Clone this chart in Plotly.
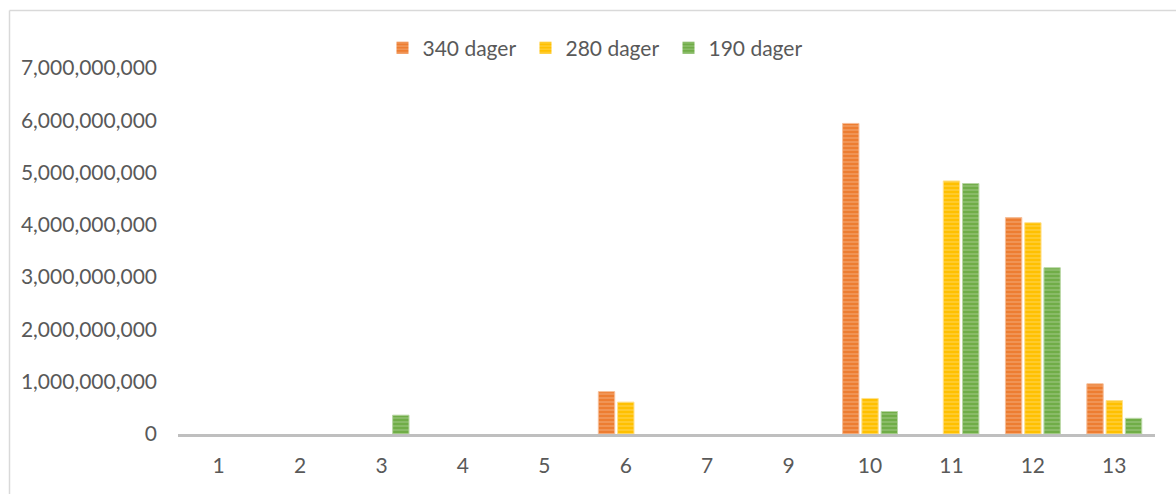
import plotly.graph_objects as go

# Category labels along the x axis (note: no 8)
categories = ["1", "2", "3", "4", "5", "6", "7", "9", "10", "11", "12", "13"]

# Values per series
dager_340 = [0, 0, 0, 0, 0, 0.81e9, 0, 0, 5.94e9, 0, 4.14e9, 0.96e9]
dager_280 = [0, 0, 0, 0, 0, 0.61e9, 0, 0, 0.68e9, 4.84e9, 4.04e9, 0.64e9]
dager_190 = [0, 0, 0.36e9, 0, 0, 0, 0, 0, 0.43e9, 4.79e9, 3.18e9, 0.30e9]

series_names = ["340 dager", "280 dager", "190 dager"]
series_values = [dager_340, dager_280, dager_190]
colors = ["#ED7D31", "#FFC000", "#70AD47"]
edge_colors = ["#F6BE98", "#FFE08A", "#B8D6A3"]

# y-axis tick values and their labels
y_ticks = [0, 1e9, 2e9, 3e9, 4e9, 5e9, 6e9, 7e9]
y_tick_labels = ["0", "1,000,000,000", "2,000,000,000", "3,000,000,000",
                 "4,000,000,000", "5,000,000,000", "6,000,000,000", "7,000,000,000"]

FONT = "Lato"
TEXT = "#595959"

W, H = 1176, 494
L, R, T, B = 178, 21, 68, 60
plot_w = W - L - R
plot_h = H - T - B

fig = go.Figure()
for name, vals, col, edge in zip(series_names, series_values, colors, edge_colors):
    fig.add_trace(go.Bar(
        x=categories, y=vals, name=name,
        marker=dict(
            color=col,
            # no outline on empty bars so nothing shows at zero
            line=dict(color=edge, width=[1 if v else 0 for v in vals]),
            pattern=dict(shape="-", fillmode="overlay",
                         fgcolor="rgba(255,255,255,0.5)", size=4, solidity=0.35),
        ),
    ))


def px_x(p):
    return (p - L) / plot_w


def px_y(p):
    return (H - B - p) / plot_h


# Thin frame around the chart area
fig.add_shape(type="line", xref="paper", yref="paper",
              x0=px_x(9.5), x1=px_x(1180), y0=px_y(10.5), y1=px_y(10.5),
              line=dict(color="#D9D9D9", width=1.5))
fig.add_shape(type="line", xref="paper", yref="paper",
              x0=px_x(9.5), x1=px_x(9.5), y0=px_y(10.5), y1=px_y(500),
              line=dict(color="#D9D9D9", width=1.5))

fig.update_layout(
    width=W, height=H,
    margin=dict(l=L, r=R, t=T, b=B),
    paper_bgcolor="white", plot_bgcolor="white",
    barmode="group", bargap=0.29, bargroupgap=0.15,
    font=dict(family=FONT, size=21, color=TEXT),
    legend=dict(orientation="h", x=px_x(597), y=px_y(48),
                xanchor="center", yanchor="middle",
                font=dict(family=FONT, size=21, color=TEXT),
                entrywidth=98, entrywidthmode="pixels",
                bgcolor="rgba(0,0,0,0)"),
    xaxis=dict(type="category", categoryorder="array", categoryarray=categories,
               showline=True, linecolor="#BFBFBF", linewidth=3,
               showgrid=False, ticks="", ticklabelstandoff=11,
               tickfont=dict(family=FONT, size=21, color=TEXT)),
    yaxis=dict(range=[0, 7e9], tickvals=y_ticks, ticktext=y_tick_labels,
               showgrid=False, zeroline=False, showline=False, ticks="",
               ticklabelstandoff=20,
               tickfont=dict(family=FONT, size=21, color=TEXT)),
)

fig.write_html("out.html")
